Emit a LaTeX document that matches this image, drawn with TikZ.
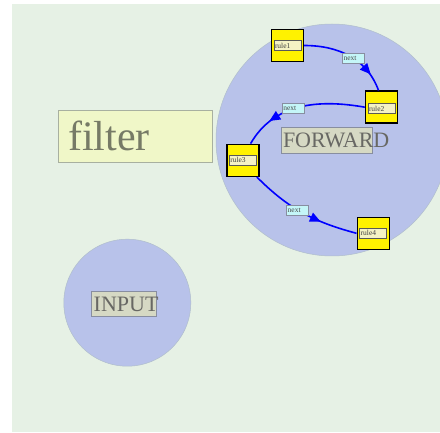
\documentclass[tikz,border=0pt]{standalone}
\usepackage{fontspec}
\setmainfont{Liberation Serif}
\usepackage{tikz}
\usetikzlibrary{positioning,shapes.geometric}
\usepackage{xcolor}

\definecolor{bggreen}{RGB}{230,241,229}
\definecolor{clfill}{RGB}{184,194,234}
\definecolor{cledge}{RGB}{176,190,204}
\definecolor{lblfill}{RGB}{214,217,196}
\definecolor{lbledge}{RGB}{136,142,160}
\definecolor{lbltext}{RGB}{104,104,100}
\definecolor{filterfill}{RGB}{240,247,200}
\definecolor{filteredge}{RGB}{168,176,160}
\definecolor{filtertext}{RGB}{118,122,102}
\definecolor{innerfill}{RGB}{245,242,196}
\definecolor{nextfill}{RGB}{196,246,248}

\begin{document}
\begin{tikzpicture}[x=10pt, y=10pt,
    cluster/.style={circle, fill=clfill, draw=cledge, line width=0.5pt, inner sep=0pt},
    clusterlbl/.style={rectangle, fill=lblfill, draw=lbledge, line width=0.8pt, text=lbltext,
        font=\fontsize{22}{24}\selectfont, inner sep=2pt, align=left},
    filterbox/.style={rectangle, fill=filterfill, draw=filteredge, line width=0.8pt, text=filtertext,
        font=\fontsize{42}{46}\selectfont, inner xsep=10pt, inner ysep=0pt, text width=134pt,
        minimum height=52pt, align=left},
    rulebox/.style={rectangle, fill=yellow, draw=black, line width=1.4pt, minimum size=32pt, inner sep=0pt},
    rulelbl/.style={rectangle, fill=innerfill, draw=black!65, line width=0.9pt, text=black!75,
        font=\fontsize{7.5}{8}\selectfont, inner sep=1pt, text width=25pt, minimum height=10.5pt, align=left},
    nextlbl/.style={rectangle, fill=nextfill, draw=lbledge, line width=0.9pt, text=black!70,
        font=\fontsize{7.5}{8}\selectfont, inner sep=1pt, text width=20pt, minimum height=10pt, align=left},
    flow/.style={draw=blue, line width=1.6pt},
    arrowtip/.style={isosceles triangle, isosceles triangle apex angle=50, fill=blue, draw=none,
        inner sep=0pt, minimum size=10pt, sloped, allow upside down}
]
    \useasboundingbox (0,0) rectangle (44,43.2);

    % Tło
    \fill[bggreen] (1.2,0) rectangle (44,42.8);

    % Klastry
    \node[cluster, minimum size=232pt] (forward) at (33.2,29.2) {};
    \node[cluster, minimum size=127pt] (input) at (12.73,12.93) {};
    \node[clusterlbl, text width=87pt, minimum height=26pt] (forwardlbl) at (32.65,29.2) {\mbox{FORWARD}};
    \node[clusterlbl, text width=61pt, minimum height=25pt] (inputlbl) at (12.42,12.78) {\mbox{INPUT}};
    \node[filterbox] (filter) at (13.53,29.58) {filter};

    % Reguły
    \node[rulebox] (rule1) at (28.75,38.65) {};
    \node[rulebox] (rule2) at (38.15,32.48) {};
    \node[rulebox] (rule3) at (24.28,27.17) {};
    \node[rulebox] (rule4) at (37.32,19.87) {};
    \node[rulelbl] (rule1txt) at (rule1) {rule1};
    \node[rulelbl] (rule2txt) at ([yshift=-1.5pt]rule2.center) {rule2};
    \node[rulelbl] (rule3txt) at (rule3) {rule3};
    \node[rulelbl] (rule4txt) at (rule4) {rule4};

    % Krawędzie
    \draw[flow] (rule1.east) to[out=0, in=110]
        node[nextlbl, pos=0.55] (next1) {next}
        node[arrowtip, pos=0.73] (tip1) {} (rule2.100);
    \draw[flow] (rule2.west) to[out=170, in=60]
        node[nextlbl, pos=0.55] (next2) {next}
        node[arrowtip, pos=0.71] (tip2) {} (rule3.65);
    \draw[flow] (rule3.-50) to[out=-45, in=165]
        node[nextlbl, pos=0.45] (next3) {next}
        node[arrowtip, pos=0.62] (tip3) {} (rule4.west);
\end{tikzpicture}
\end{document}
